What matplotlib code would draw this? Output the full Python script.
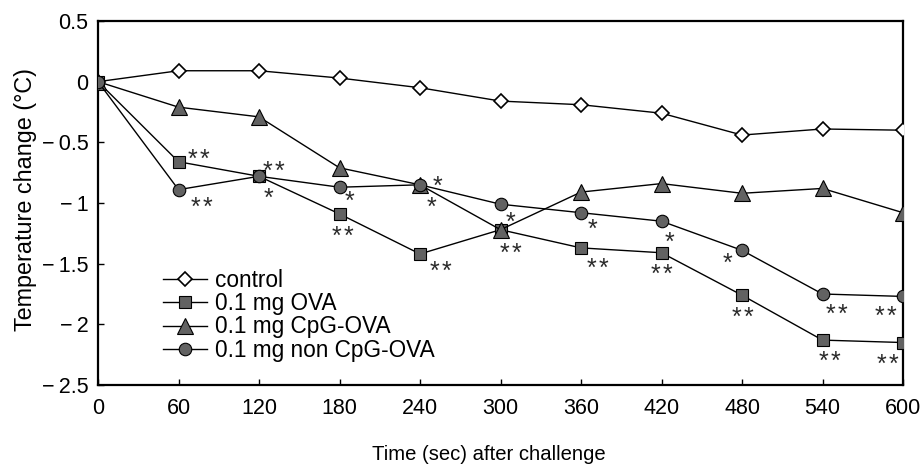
import matplotlib
matplotlib.use("Agg")
import matplotlib.pyplot as plt

plt.rcParams['font.family'] = ['Liberation Sans', 'DejaVu Sans']

time_sec = [0, 60, 120, 180, 240, 300, 360, 420, 480, 540, 600]
control = [0, 0.09, 0.09, 0.03, -0.05, -0.16, -0.19, -0.26, -0.44, -0.39, -0.40]
ova = [0, -0.66, -0.78, -1.09, -1.42, -1.22, -1.37, -1.41, -1.76, -2.13, -2.15]
cpg_ova = [0, -0.21, -0.29, -0.71, -0.85, -1.22, -0.91, -0.84, -0.92, -0.88, -1.08]
non_cpg_ova = [0, -0.89, -0.78, -0.87, -0.85, -1.01, -1.08, -1.15, -1.39, -1.75, -1.77]

labels = ['control', '0.1 mg OVA', '0.1 mg CpG-OVA', '0.1 mg non CpG-OVA']
yticks = [0.5, 0, -0.5, -1, -1.5, -2, -2.5]
ytick_labels = ['0.5', '0', '\u2212\u20090.5', '\u2212\u20091', '\u2212\u20091.5',
                '\u2212\u20092', '\u2212\u20092.5']

# significance marks: (series, time index, number of asterisks, dx px, dy px (down positive))
sig_marks = [
    ('ova', 1, 2, 20, -9),
    ('non', 1, 2, 23, 11),
    ('non', 2, 2, 14, -12),
    ('non', 2, 1, 9, 15),
    ('non', 3, 1, 10, 7),
    ('ova', 3, 2, 3, 15),
    ('non', 4, 1, 17, -5),
    ('non', 4, 1, 11, 16),
    ('ova', 4, 2, 20, 10),
    ('non', 5, 1, 10, 11),
    ('ova', 5, 2, 10, 17),
    ('non', 6, 1, 11, 10),
    ('ova', 6, 2, 16, 13),
    ('non', 7, 1, 8, 14),
    ('ova', 7, 2, 0, 15),
    ('non', 8, 1, -15, 6),
    ('ova', 8, 2, 0, 15),
    ('non', 9, 2, 14, 13),
    ('ova', 9, 2, 7, 14),
    ('non', 10, 2, -18, 13),
    ('ova', 10, 2, -16, 15),
]

W, H, DPI = 9.22, 4.67, 100
fig = plt.figure(figsize=(W, H), dpi=DPI)
ax = fig.add_axes([98 / 922, 1 - 385 / 467, 805 / 922, 364 / 467])

fs = 15.5
gray = '#626262'
lw = 1.0
ax.plot(time_sec, control, color='black', lw=lw, marker='D', ms=7.6,
        mfc='white', mec='black', mew=1.2, label=labels[0], zorder=3)
ax.plot(time_sec, ova, color='black', lw=lw, marker='s', ms=8,
        mfc=gray, mec='black', mew=0.8, label=labels[1], zorder=3)
ax.plot(time_sec, cpg_ova, color='black', lw=lw, marker='^', ms=11,
        mfc=gray, mec='black', mew=0.8, label=labels[2], zorder=3)
ax.plot(time_sec, non_cpg_ova, color='black', lw=lw, marker='o', ms=9,
        mfc=gray, mec='black', mew=0.8, label=labels[3], zorder=3)

series = {'ova': ova, 'non': non_cpg_ova, 'cpg': cpg_ova, 'control': control}
px2pt = 72.0 / DPI
sfs = 18
gap = 6.0
for name, i, n, dx, dy in sig_marks:
    offs = [0.0] if n == 1 else [-gap, gap]
    for o in offs:
        ax.annotate('*', xy=(time_sec[i], series[name][i]),
                    xytext=((dx + o) * px2pt, -dy * px2pt - 0.58 * sfs),
                    textcoords='offset points', ha='center', va='baseline',
                    fontsize=sfs, color='#2a2a2a', zorder=4)

ax.set_xlim(0, 600)
ax.set_ylim(-2.5, 0.5)
ax.set_xticks(time_sec)
ax.set_xticklabels([str(t) for t in time_sec], fontsize=fs)
ax.set_yticks(yticks)
ax.set_yticklabels(ytick_labels, fontsize=fs)
ax.tick_params(axis='both', direction='in', length=4, width=1)
ax.tick_params(axis='x', pad=9)
ax.tick_params(axis='y', pad=7)
for s in ax.spines.values():
    s.set_linewidth(1.6)

ax.set_xlabel('Time (sec) after challenge', fontsize=14.6)
ax.xaxis.set_label_coords(0.486, -0.165)
ax.set_ylabel('Temperature change (\u00b0C)', fontsize=16.8)
ax.yaxis.set_label_coords(-0.076, 0.51)

ax.legend(loc='upper left', bbox_to_anchor=(0.081, 0.32), frameon=False,
          fontsize=16.3, handlelength=1.95, handletextpad=0.35,
          labelspacing=0.02, borderpad=0, borderaxespad=0)

fig.savefig('out.png', dpi=DPI)
